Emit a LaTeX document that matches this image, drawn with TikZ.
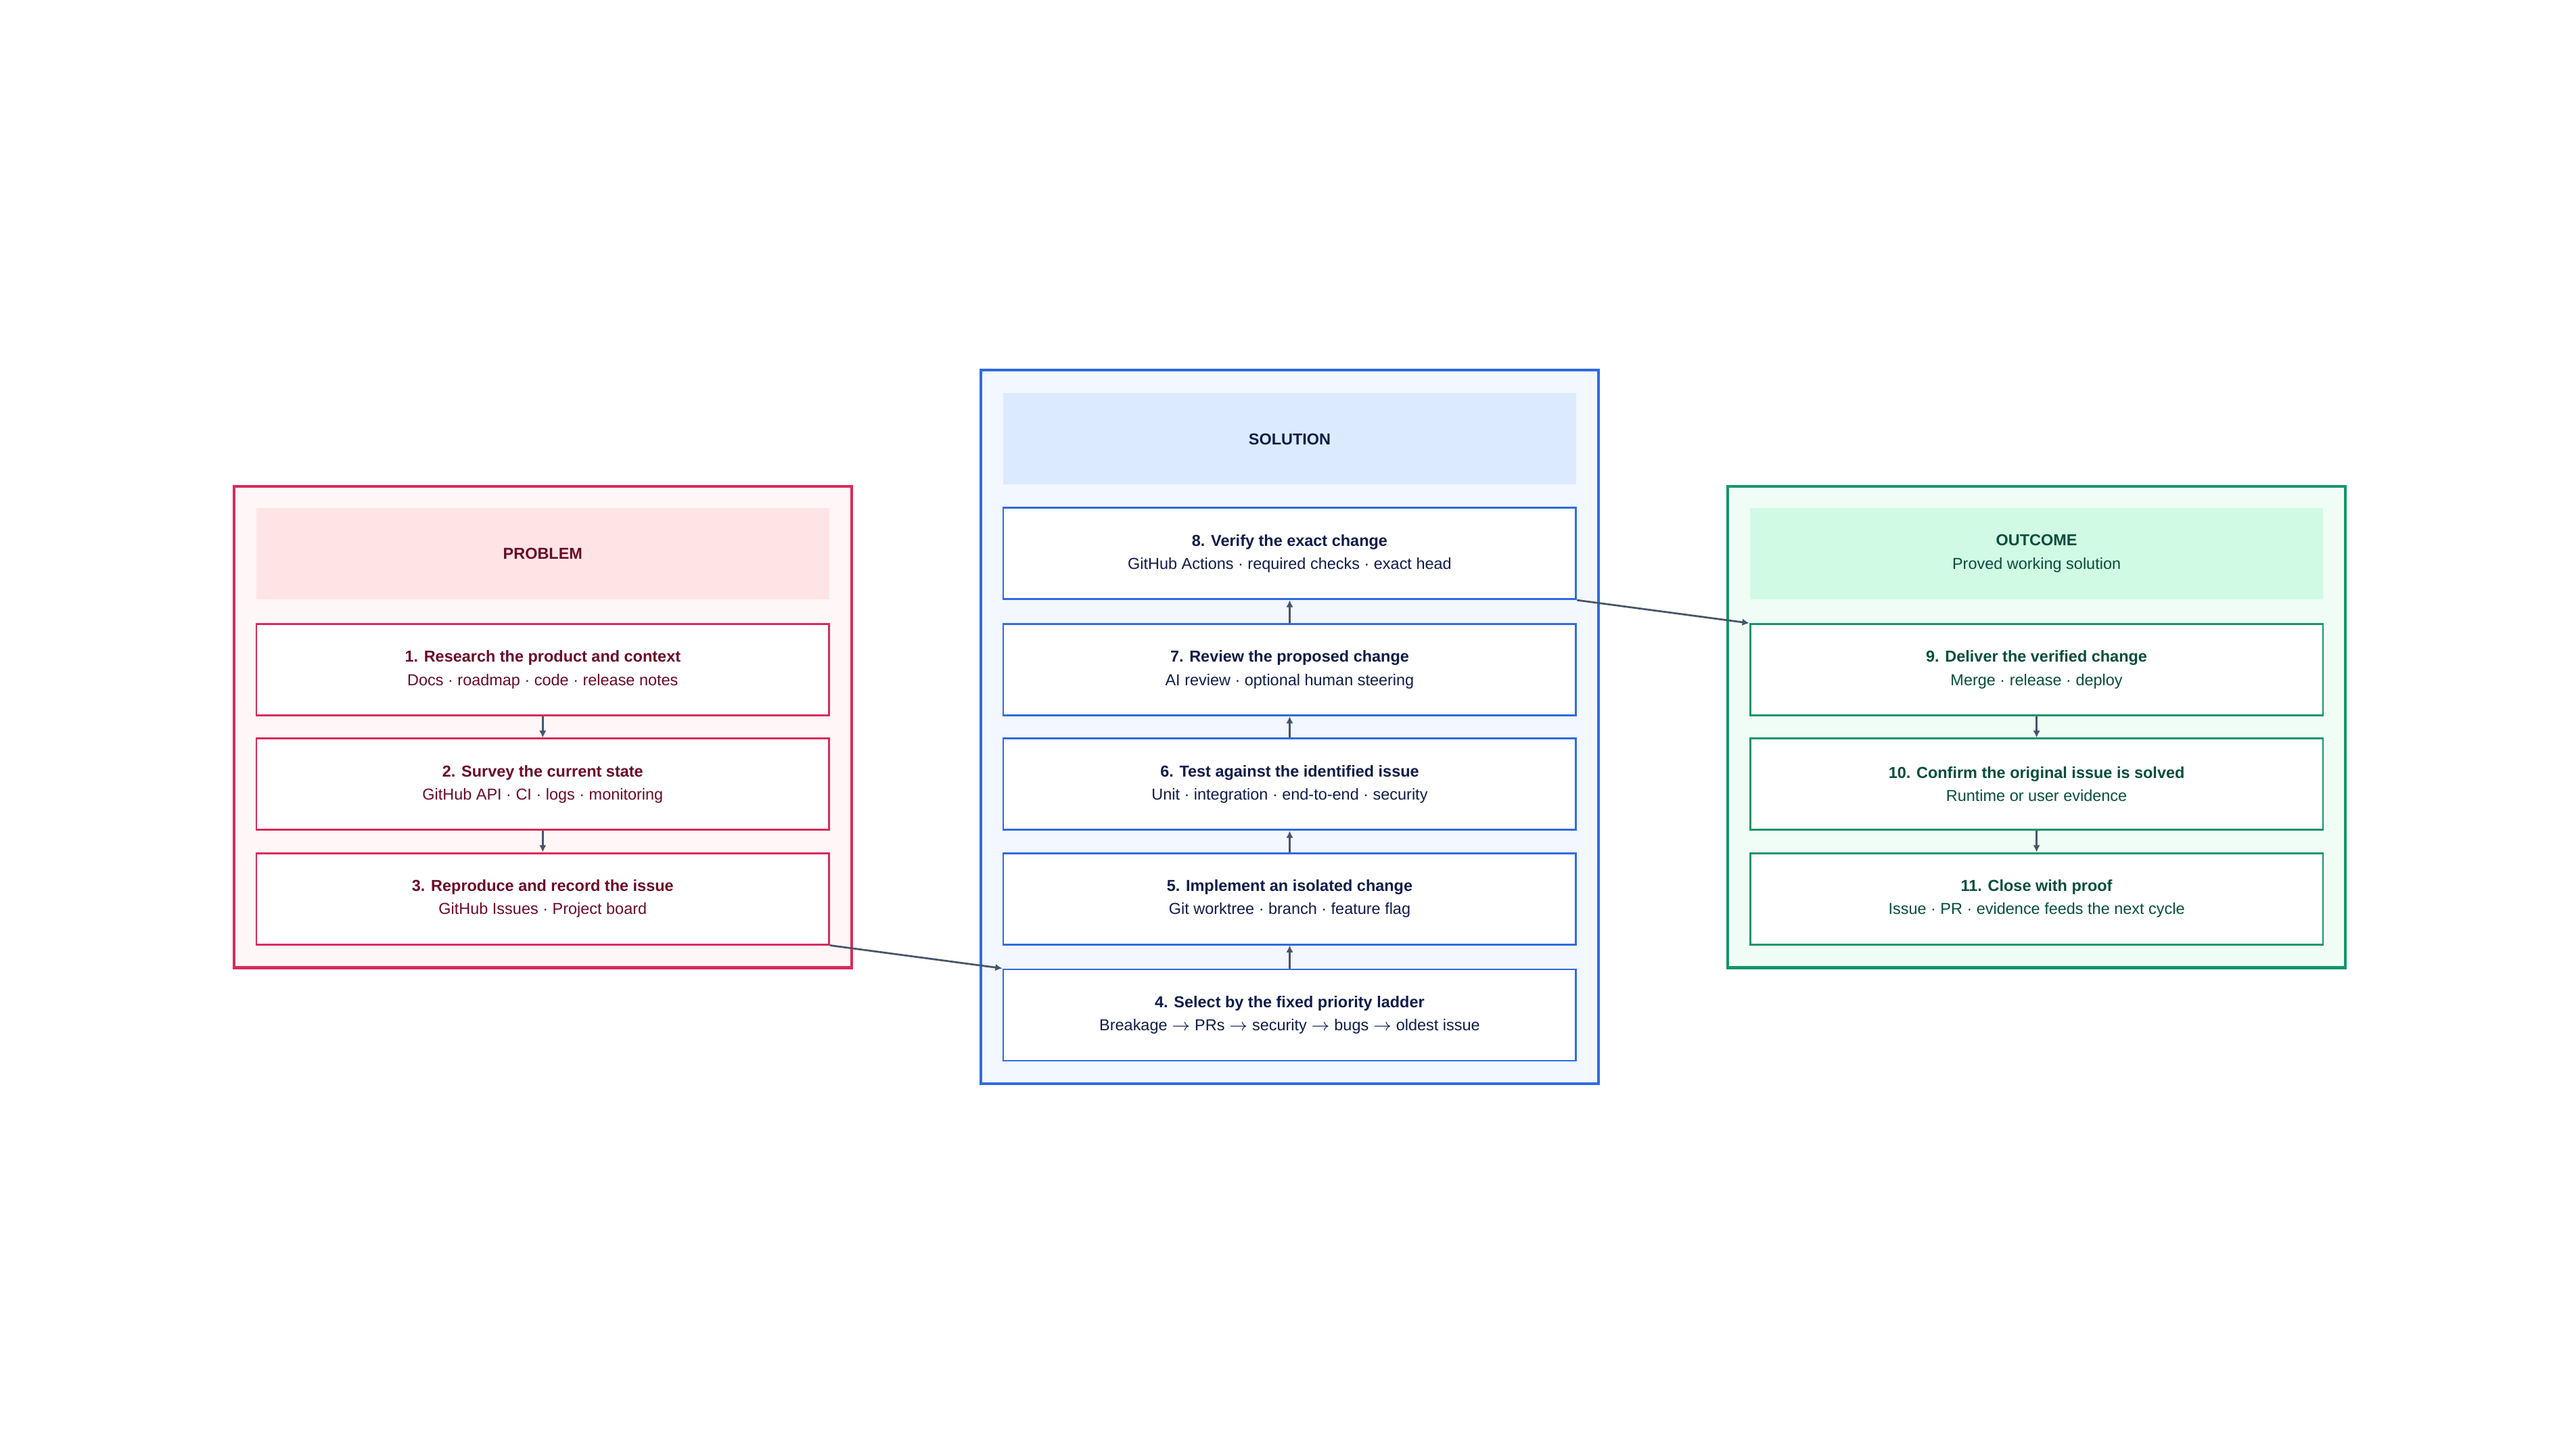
\documentclass[tikz,border=0pt]{standalone}
\usepackage{fontspec}
\setmainfont{Liberation Sans}
\usetikzlibrary{arrows.meta, positioning}
\definecolor{probline}{HTML}{D92B5A}
\definecolor{probfill}{HTML}{FFF6F7}
\definecolor{probhead}{HTML}{FFE4E6}
\definecolor{probtext}{HTML}{6B0A28}
\definecolor{solline}{HTML}{2F6BE0}
\definecolor{solfill}{HTML}{F3F7FF}
\definecolor{solhead}{HTML}{DBEAFE}
\definecolor{soltext}{HTML}{101B4A}
\definecolor{outline}{HTML}{14956B}
\definecolor{outfill}{HTML}{F0FDF6}
\definecolor{outhead}{HTML}{D1FAE5}
\definecolor{outtext}{HTML}{064E3B}
\definecolor{linkcol}{HTML}{475569}
\tikzset{
  panel/.style={draw=#1line, fill=#1fill, line width=1.2pt, minimum width=9.3cm, minimum height=7.25cm},
  head/.style={fill=#1head, text=#1text, minimum width=8.625cm, minimum height=1.375cm, align=center, font=\fontsize{6.8}{10}\selectfont},
  step/.style={draw=#1line, fill=white, text=#1text, line width=0.8pt, minimum width=8.625cm, minimum height=1.375cm, align=center, font=\fontsize{6.8}{10}\selectfont},
  link/.style={draw=linkcol, line width=0.8pt, -{Latex[length=3pt,width=3pt]}}
}
\begin{document}
\begin{tikzpicture}[x=0.025cm, y=-0.025cm]
\useasboundingbox (0,0) rectangle (1552,873);
% panels
\node (problem) [panel=prob] at (327,438) {};
\node (solution) [panel=sol, minimum height=10.75cm] at (777,438) {};
\node (outcome) [panel=out] at (1227,438) {};
% problem column
\node (probhd) [head=prob] at (327,333.5) {\textbf{PROBLEM}};
\node (s1) [step=prob] at (327,403.5) {\textbf{1. Research the product and context}\\Docs · roadmap · code · release notes};
\node (s2) [step=prob] at (327,472.5) {\textbf{2. Survey the current state}\\GitHub API · CI · logs · monitoring};
\node (s3) [step=prob] at (327,541.5) {\textbf{3. Reproduce and record the issue}\\GitHub Issues · Project board};
% solution column
\node (solhd) [head=sol] at (777,264.5) {\textbf{SOLUTION}};
\node (s8) [step=sol] at (777,333.5) {\textbf{8. Verify the exact change}\\GitHub Actions · required checks · exact head};
\node (s7) [step=sol] at (777,403.5) {\textbf{7. Review the proposed change}\\AI review · optional human steering};
\node (s6) [step=sol] at (777,472.5) {\textbf{6. Test against the identified issue}\\Unit · integration · end-to-end · security};
\node (s5) [step=sol] at (777,541.5) {\textbf{5. Implement an isolated change}\\Git worktree · branch · feature flag};
\node (s4) [step=sol] at (777,611.5) {\textbf{4. Select by the fixed priority ladder}\\Breakage $\rightarrow$ PRs $\rightarrow$ security $\rightarrow$ bugs $\rightarrow$ oldest issue};
% outcome column
\node (outhd) [head=out] at (1227,333.5) {\textbf{OUTCOME}\\Proved working solution};
\node (s9) [step=out] at (1227,403.5) {\textbf{9. Deliver the verified change}\\Merge · release · deploy};
\node (s10) [step=out] at (1227,472.5) {\textbf{10. Confirm the original issue is solved}\\Runtime or user evidence};
\node (s11) [step=out] at (1227,541.5) {\textbf{11. Close with proof}\\Issue · PR · evidence feeds the next cycle};
% connectors
\draw [link] (s1) -- (s2);
\draw [link] (s2) -- (s3);
\draw [link] (s3.south east) -- (s4.north west);
\draw [link] (s4) -- (s5);
\draw [link] (s5) -- (s6);
\draw [link] (s6) -- (s7);
\draw [link] (s7) -- (s8);
\draw [link] (s8.south east) -- (s9.north west);
\draw [link] (s9) -- (s10);
\draw [link] (s10) -- (s11);
\end{tikzpicture}
\end{document}
